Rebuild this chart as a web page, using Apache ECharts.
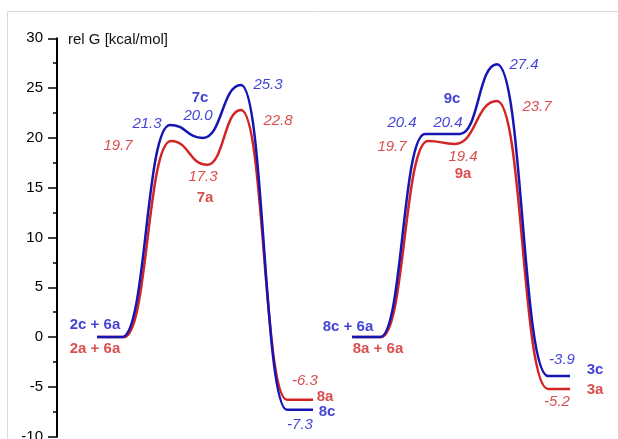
<!DOCTYPE html>
<html>
<head>
<meta charset="utf-8">
<script src="https://cdn.jsdelivr.net/npm/echarts@6/dist/echarts.min.js"></script>
<style>
  html, body { margin: 0; padding: 0; background: #fff; }
  #chart { width: 618px; height: 439px; }
</style>
</head>
<body>
<div id="chart"></div>
<script>
  // reaction coordinate (arbitrary units) and rel G values of the stationary points
  var rcBlue1 = [40, 65, 113, 146, 184, 230, 256];
  var gBlue1 = [0, 0, 21.3, 20.0, 25.3, -7.3, -7.3];
  var rcRed1 = [40, 67, 114, 150, 184, 230, 256];
  var gRed1 = [0, 0, 19.7, 17.3, 22.8, -6.3, -6.3];
  var rcBlue2 = [295, 323, 368, 403, 440, 491, 513];
  var gBlue2 = [0, 0, 20.4, 20.4, 27.4, -3.9, -3.9];
  var rcRed2 = [295, 324, 371, 398, 440, 491, 513];
  var gRed2 = [0, 0, 19.7, 19.4, 23.7, -5.2, -5.2];

  // labels: text, reaction coordinate, rel G
  var blueNumText = ['21.3', '20.0', '25.3', '-7.3', '20.4', '20.4', '27.4', '-3.9'];
  var blueNumX = [90, 141, 211, 243, 345, 391, 467, 505];
  var blueNumY = [21.46, 22.17, 25.29, -8.77, 21.56, 21.56, 27.3, -2.32];
  var redNumText = ['19.7', '17.3', '22.8', '-6.3', '19.7', '19.4', '23.7', '-5.2'];
  var redNumX = [61, 146, 221, 248, 335, 406, 480, 500];
  var redNumY = [19.24, 16.12, 21.76, -4.43, 19.14, 18.14, 23.07, -6.45];
  var blueNameText = ['7c', '2c + 6a', '8c', '9c', '8c + 6a', '3c'];
  var blueNameX = [143, 38, 270, 395, 291, 538];
  var blueNameY = [23.98, 1.21, -7.46, 23.88, 1.01, -3.32];
  var redNameText = ['7a', '2a + 6a', '8a', '9a', '8a + 6a', '3a'];
  var redNameX = [148, 38, 268, 406, 321, 538];
  var redNameY = [14.0, -1.21, -6.05, 16.42, -1.21, -5.34];

  var blue = '#1515b4';
  var red = '#d22424';
  var blueText = '#1212cc';
  var redText = '#cf2222';

  function pairs(xs, ys) {
    var out = [];
    for (var i = 0; i < xs.length; i++) out.push([xs[i], ys[i]]);
    return out;
  }
  function labelData(texts, xs, ys) {
    var out = [];
    for (var i = 0; i < texts.length; i++) out.push({ name: texts[i], value: [xs[i], ys[i]] });
    return out;
  }
  function curve(data, color) {
    return {
      type: 'line',
      data: data,
      smooth: 0.5,
      smoothMonotone: 'x',
      showSymbol: false,
      silent: true,
      lineStyle: { color: color, width: 2.5 }
    };
  }
  function labels(data, color, italic, bold, size) {
    return {
      type: 'scatter',
      data: data,
      symbolSize: 0,
      silent: true,
      label: {
        show: true,
        position: 'inside',
        formatter: '{b}',
        color: color,
        fontFamily: 'Liberation Sans, Arial, sans-serif',
        fontStyle: italic ? 'italic' : 'normal',
        fontWeight: bold ? 'bold' : 'normal',
        fontSize: size
      }
    };
  }

  var myChart = echarts.init(document.getElementById('chart'));
  var option = {
    backgroundColor: '#fff',
    animation: false,
    title: {
      text: 'rel G [kcal/mol]',
      left: 68,
      top: 32,
      padding: 0,
      textStyle: { fontFamily: 'Liberation Sans, Arial, sans-serif', fontWeight: 'normal', fontSize: 15, color: '#111' }
    },
    graphic: [{
      type: 'polyline',
      shape: { points: [[7.5, 439], [7.5, 11.5], [618, 11.5]] },
      style: { stroke: '#dcdcdc', fill: null, lineWidth: 1 },
      silent: true
    }],
    grid: { left: 57, right: 0, top: 38.3, bottom: 2.3, containLabel: false, outerBoundsMode: 'none' },
    xAxis: { type: 'value', min: 0, max: 561, show: false },
    yAxis: {
      type: 'value',
      min: -10,
      max: 30,
      interval: 5,
      axisLine: { show: true, lineStyle: { color: '#000', width: 2 } },
      axisTick: { show: true, length: 9, lineStyle: { color: '#000', width: 1.5 } },
      minorTick: { show: true, splitNumber: 2, length: 4, lineStyle: { color: '#000', width: 1.5 } },
      splitLine: { show: false },
      axisLabel: { margin: 14, color: '#000', fontSize: 15, fontFamily: 'Liberation Sans, Arial, sans-serif' }
    },
    series: [
      curve(pairs(rcRed1, gRed1), red),
      curve(pairs(rcRed2, gRed2), red),
      curve(pairs(rcBlue1, gBlue1), blue),
      curve(pairs(rcBlue2, gBlue2), blue),
      labels(labelData(blueNumText, blueNumX, blueNumY), blueText, true, false, 15),
      labels(labelData(redNumText, redNumX, redNumY), redText, true, false, 15),
      labels(labelData(blueNameText, blueNameX, blueNameY), blueText, false, true, 15),
      labels(labelData(redNameText, redNameX, redNameY), redText, false, true, 15)
    ]
  };
  myChart.setOption(option);
</script>
</body>
</html>
